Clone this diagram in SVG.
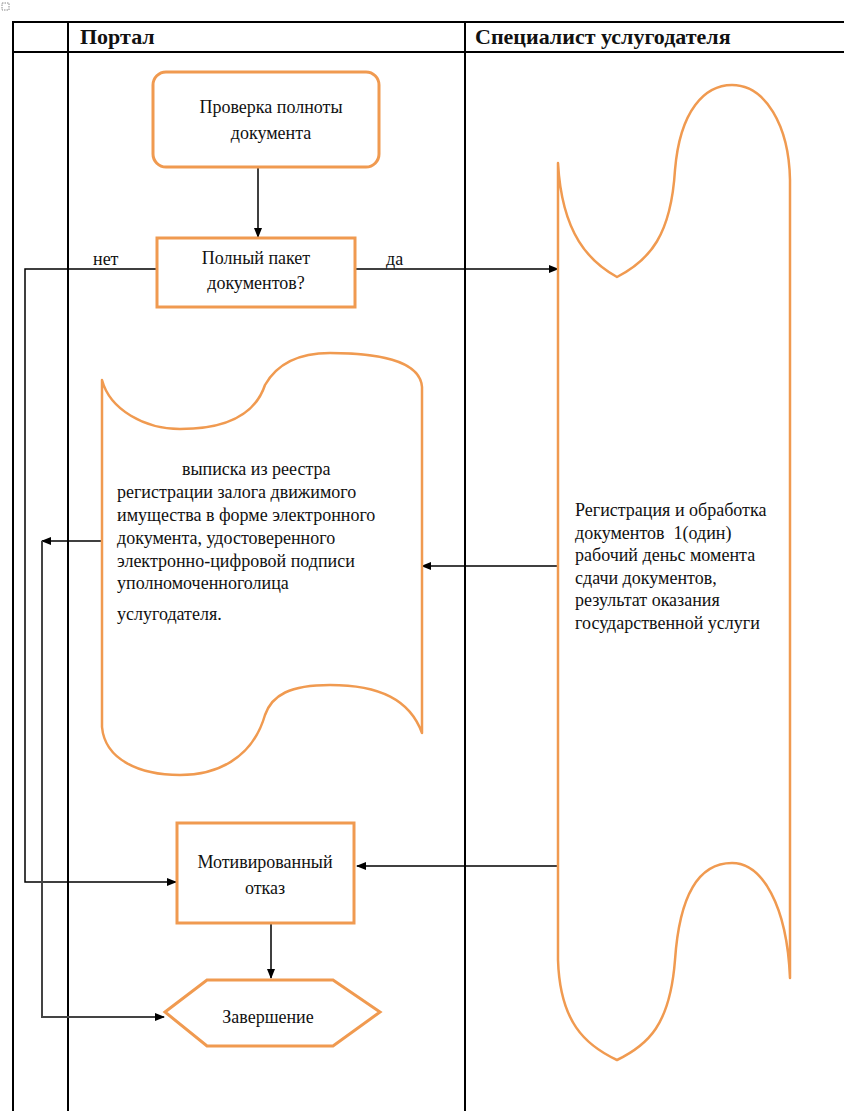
<svg xmlns="http://www.w3.org/2000/svg" width="844" height="1111" viewBox="0 0 844 1111">
<style>
.t{font-family:"Liberation Serif","Times New Roman",serif;fill:#111;}
.h{font-size:22px;font-weight:bold;}
.n{font-size:18px;}
.shape{fill:#fff;stroke:#F09A50;stroke-width:3;}
.wave{fill:#fff;stroke:#F09A50;stroke-width:2.5;stroke-linejoin:round;}
.grid{stroke:#000;stroke-width:2;fill:none;}
.c{stroke:#000;stroke-width:1.5;fill:none;}
.cg{stroke:#444;stroke-width:2;fill:none;}
</style>
<defs>
<marker id="ah" markerWidth="10" markerHeight="8" refX="9" refY="4" orient="auto" markerUnits="userSpaceOnUse">
<path d="M0,0 L10,4 L0,8 Z" fill="#000"/>
</marker>
</defs>
<rect width="844" height="1111" fill="#fff"/>
<rect x="2" y="3" width="7" height="7" fill="none" stroke="#888" stroke-width="1" stroke-dasharray="1.5,1"/>
<g id="table">
<line class="grid" x1="13" y1="22" x2="844" y2="22"/>
<line class="grid" x1="13" y1="52" x2="844" y2="52"/>
<line class="grid" x1="13" y1="21" x2="13" y2="1111"/>
<line class="grid" x1="68" y1="21" x2="68" y2="1111"/>
<line class="grid" x1="465" y1="21" x2="465" y2="1111"/>
<text class="t h" x="80" y="44">Портал</text>
<text class="t h" x="475" y="44">Специалист услугодателя</text>
</g>
<g id="connectors">
<line class="c" x1="258" y1="167" x2="258" y2="237" marker-end="url(#ah)"/>
<path class="c" d="M157,269 H25 V882 H176" marker-end="url(#ah)"/>
<line class="c" x1="355" y1="269" x2="558" y2="269" marker-end="url(#ah)"/>
<line class="c" x1="558" y1="566" x2="422" y2="566" marker-end="url(#ah)"/>
<line class="c" x1="102" y1="541" x2="42" y2="541" marker-end="url(#ah)"/>
<path class="cg" d="M42,541 V1017 H164" marker-end="url(#ah)"/>
<line class="c" x1="558" y1="866" x2="357" y2="866" marker-end="url(#ah)"/>
<line class="c" x1="271" y1="923" x2="271" y2="978" marker-end="url(#ah)"/>
<text class="t n" x="93" y="265">нет</text>
<text class="t n" x="386" y="265">да</text>
</g>
<g id="check">
<rect class="shape" x="153" y="72" width="226" height="95" rx="13"/>
<text class="t n" x="271" y="113" text-anchor="middle">Проверка полноты</text>
<text class="t n" x="271" y="139" text-anchor="middle">документа</text>
</g>
<g id="decision">
<rect class="shape" x="157" y="238" width="198" height="69"/>
<text class="t n" x="256" y="264" text-anchor="middle">Полный пакет</text>
<text class="t n" x="256" y="289" text-anchor="middle">документов?</text>
</g>
<g id="register">
<path class="wave" d="M558,163 C562,235 590,262 617,277 C650,260 671,235 675,170 C680,110 705,85 732,85 C765,85 789,125 790,180 L790,978 C787,905 762,863 732,863 C703,863 680,888 675,960 C670,1025 648,1045 617,1060 C585,1045 560,1022 558,960 Z"/>
<text class="t n" x="575" y="516">Регистрация и обработка</text>
<text class="t n" x="575" y="539">документов&#160; 1(один)</text>
<text class="t n" x="575" y="561">рабочий деньс момента</text>
<text class="t n" x="575" y="584">сдачи документов,</text>
<text class="t n" x="575" y="606">результат оказания</text>
<text class="t n" x="575" y="629">государственной услуги</text>
</g>
<g id="extract">
<path class="wave" d="M102,380 C110,410 145,429 180,429 C225,429 255,415 265,385 C278,362 300,353 330,353 C375,353 420,360 422,387 L422,733 C410,700 380,685 330,685 C290,685 272,695 265,715 C252,760 215,775 180,775 C140,775 105,760 102,727 Z"/>
<text class="t n" x="182" y="475">выписка из реестра</text>
<text class="t n" x="117" y="498">регистрации залога движимого</text>
<text class="t n" x="117" y="521">имущества в форме электронного</text>
<text class="t n" x="117" y="544">документа, удостоверенного</text>
<text class="t n" x="117" y="567">электронно-цифровой подписи</text>
<text class="t n" x="117" y="589">уполномоченноголица</text>
<text class="t n" x="117" y="620">услугодателя.</text>
</g>
<g id="refusal">
<rect class="shape" x="177" y="823" width="177" height="100"/>
<text class="t n" x="265" y="868" text-anchor="middle">Мотивированный</text>
<text class="t n" x="265" y="894" text-anchor="middle">отказ</text>
</g>
<g id="end">
<polygon class="shape" points="165,1012 207,980 333,980 380,1012 333,1046 207,1046"/>
<text class="t n" x="268" y="1023" text-anchor="middle">Завершение</text>
</g>
</svg>
